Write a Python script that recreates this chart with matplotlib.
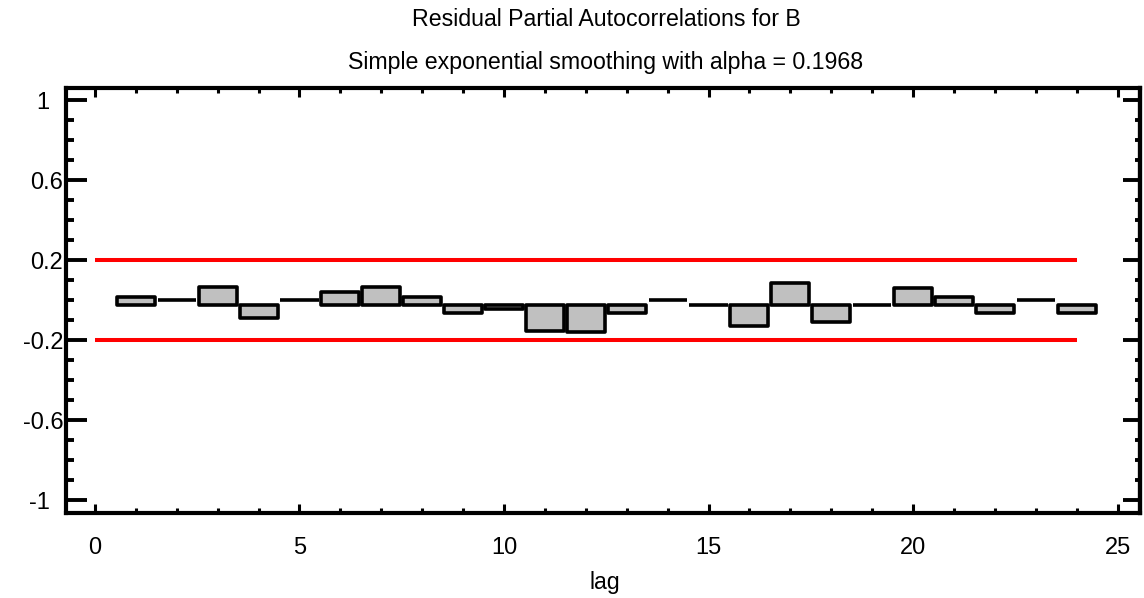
import numpy as np
import matplotlib
matplotlib.use("Agg")
import matplotlib.pyplot as plt
from matplotlib.ticker import MultipleLocator, FuncFormatter

plt.rcParams['font.family'] = ['Liberation Sans', 'DejaVu Sans']
plt.rcParams['axes.unicode_minus'] = False

# data
lags = np.arange(1, 25)
pacf = np.array([0.018, 0.0, 0.065, -0.090, 0.0, 0.043, 0.065, 0.018,
                 -0.065, -0.045, -0.156, -0.157, -0.065, 0.0, -0.024, -0.131,
                 0.085, -0.111, -0.024, 0.062, 0.017, -0.065, 0.0, -0.065])
conf_limit = 0.2
max_lag = 24
title = "Residual Partial Autocorrelations for B"
subtitle = "Simple exponential smoothing with alpha = 0.1968"
xlabel = "lag"

W, H = 1144, 598
fig = plt.figure(figsize=(W / 100, H / 100), dpi=100)
ax = fig.add_axes([66 / W, 1 - 513 / H, (1140 - 66) / W, (513 - 88) / H])

# bars hang from a baseline slightly below zero, flat zero values drawn at 0
base = -0.024
bottoms = np.where(pacf == 0, pacf, base)
bars = ax.bar(lags, pacf - bottoms, bottom=bottoms, width=0.93,
              facecolor="#c0c0c0", edgecolor="black", linewidth=2.6, zorder=3)
for b in bars:
    b.set_joinstyle("round")

# confidence limits
ax.plot([0, max_lag], [conf_limit, conf_limit], color="red", lw=2.9, zorder=2,
        solid_capstyle="butt")
ax.plot([0, max_lag], [-conf_limit, -conf_limit], color="red", lw=2.9, zorder=2,
        solid_capstyle="butt")

ax.set_xlim(-0.709, 25.55)
ax.set_ylim(-1.064, 1.061)

for s in ax.spines.values():
    s.set_linewidth(3)


def ylab(v, pos):
    # integer labels sit a bit left, like the original
    s = "%g" % round(v, 2)
    if "." not in s:
        s = s + "  "
    return s


ax.xaxis.set_major_locator(MultipleLocator(5))
ax.xaxis.set_minor_locator(MultipleLocator(1))
ax.yaxis.set_major_locator(MultipleLocator(0.4, offset=0.2))
ax.yaxis.set_minor_locator(MultipleLocator(0.1))
ax.yaxis.set_major_formatter(FuncFormatter(ylab))

ax.tick_params(axis="x", which="major", direction="in", length=6.5, width=2.2,
               top=True, labelsize=17, pad=17)
ax.tick_params(axis="x", which="minor", direction="in", length=3.5, width=2.2,
               top=True)
ax.tick_params(axis="y", which="major", direction="in", length=15, width=2.8,
               labelsize=17, pad=2)
ax.tick_params(axis="y", which="minor", direction="in", length=6, width=2.8)

# right side ticks are shorter
sec = ax.secondary_yaxis("right")
sec.yaxis.set_major_locator(MultipleLocator(0.4, offset=0.2))
sec.yaxis.set_minor_locator(MultipleLocator(0.1))
sec.spines["right"].set_linewidth(3)
sec.tick_params(which="major", direction="in", length=12, width=2.8,
                labelright=False)
sec.tick_params(which="minor", direction="in", length=3.5, width=2.8)

fig.text(606 / W, 1 - 20 / H, title, ha="center", va="center", fontsize=16.7)
fig.text(606 / W, 1 - 62 / H, subtitle, ha="center", va="center", fontsize=16.7)
fig.text(605 / W, 1 - 583 / H, xlabel, ha="center", va="center", fontsize=16.7)

fig.savefig("out.png", dpi=100)
